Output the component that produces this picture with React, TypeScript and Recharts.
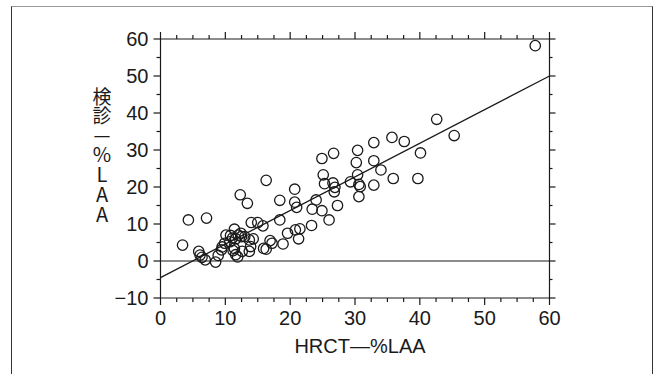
import React from 'react';
import { ScatterChart, Scatter, XAxis, YAxis, ReferenceLine } from 'recharts';

// HRCT-%LAA (x) and 検診-%LAA (y) values
const hrctLAA = [
  57.8, 42.6, 45.3, 35.7, 37.6, 32.9, 40.1, 30.4, 26.7, 24.9,
  30.2, 32.9, 34.0, 30.4, 25.1, 35.9, 39.7, 29.3, 25.3, 26.6,
  26.9, 30.6, 30.8, 32.9, 30.6, 26.8, 27.3, 24.0, 23.4, 24.9,
  26.0, 16.3, 20.7, 12.3, 13.4, 18.4, 20.7, 21.0, 4.3, 7.1,
  18.4, 14.0, 15.0, 15.8, 23.3, 11.4, 20.8, 21.5, 19.6, 21.3,
  10.1, 10.8, 12.4, 13.0, 14.3, 13.7, 11.6, 11.1, 10.7, 16.9,
  17.2, 18.9, 9.9, 9.5, 3.4, 9.4, 11.4, 11.2, 12.6, 13.9,
  13.7, 15.9, 16.3, 5.9, 11.6, 11.9, 6.1, 6.4, 6.9, 8.5,
  8.9, 12.0, 12.5,
];
const kenshinLAA = [
  58.2, 38.3, 33.9, 33.4, 32.3, 32.0, 29.2, 29.9, 29.1, 27.7,
  26.6, 27.1, 24.6, 23.3, 23.3, 22.3, 22.3, 21.4, 20.9, 21.1,
  19.9, 20.7, 20.1, 20.5, 17.4, 18.7, 15.0, 16.5, 14.0, 13.6,
  11.1, 21.8, 19.4, 17.9, 15.6, 16.4, 15.9, 14.5, 11.1, 11.6,
  11.1, 10.4, 10.4, 9.5, 9.6, 8.6, 8.4, 8.7, 7.5, 6.0,
  7.0, 6.9, 7.5, 6.6, 6.0, 5.7, 6.0, 6.2, 5.2, 5.5,
  4.8, 4.6, 4.8, 3.8, 4.3, 3.0, 3.4, 2.8, 2.6, 3.9,
  2.6, 3.4, 3.2, 2.6, 1.7, 1.1, 1.6, 1.0, 0.3, -0.3,
  1.5, 7.0, 6.6,
];

// Regression line end points
const regressionX = [0, 60];
const regressionY = [-4.5, 50];

const xTicks = [0, 2.5, 5, 7.5, 10, 12.5, 15, 17.5, 20, 22.5, 25, 27.5, 30, 32.5, 35, 37.5, 40, 42.5, 45, 47.5, 50, 52.5, 55, 57.5, 60];
const yTicks = [-10, -5, 0, 5, 10, 15, 20, 25, 30, 35, 40, 45, 50, 55, 60];
const xDomain = [0, 60];
const yDomain = [-10, 60];

const xAxisTitle = 'HRCT—%LAA';
const yAxisTitleA = '検診—';
const yAxisTitleB = '%LAA';

const points = hrctLAA.map((x, i) => ({ x, y: kenshinLAA[i] }));
const regression = regressionX.map((x, i) => ({ x, y: regressionY[i] }));

const INK = '#1a1a1a';
const FONT = '"Liberation Sans", Arial, Helvetica, sans-serif';
const CJK = '"Noto Sans CJK JP", "Noto Sans", sans-serif';
const MAJOR = 7;
const MINOR = 4;

const fmt = (v: number) => (v < 0 ? `−${Math.abs(v)}` : `${v}`);

const BottomTick = (props: any) => {
  const { x, y, payload } = props;
  const v = payload.value;
  const major = v % 10 === 0;
  return (
    <g>
      <line x1={x} x2={x} y1={y} y2={y + (major ? MAJOR : MINOR)} stroke={INK} strokeWidth={1.2} />
      {major && (
        <text x={x} y={y + 27} textAnchor="middle" fontSize={20} fontFamily={FONT} fill={INK}>
          {fmt(v)}
        </text>
      )}
    </g>
  );
};

const TopTick = (props: any) => {
  const { x, y, payload } = props;
  const major = payload.value % 10 === 0;
  return <line x1={x} x2={x} y1={y} y2={y - (major ? MAJOR : MINOR)} stroke={INK} strokeWidth={1.2} />;
};

const LeftTick = (props: any) => {
  const { x, y, payload } = props;
  const v = payload.value;
  const major = v % 10 === 0;
  return (
    <g>
      <line x1={x} x2={x - (major ? MAJOR : MINOR)} y1={y} y2={y} stroke={INK} strokeWidth={1.2} />
      {major && (
        <text x={x - 12} y={y} textAnchor="end" dominantBaseline="central" fontSize={20} fontFamily={FONT} fill={INK}>
          {fmt(v)}
        </text>
      )}
    </g>
  );
};

const RightTick = (props: any) => {
  const { x, y, payload } = props;
  const major = payload.value % 10 === 0;
  return <line x1={x} x2={x + (major ? MAJOR - 1 : MINOR - 1)} y1={y} y2={y} stroke={INK} strokeWidth={1.2} />;
};

const Ring = (props: any) => {
  const { cx, cy } = props;
  if (cx == null || cy == null) return <g />;
  return <circle cx={cx} cy={cy} r={5.2} fill="none" stroke={INK} strokeWidth={1.3} />;
};

const NoShape = () => <g />;

export default function App() {
  return (
    <div style={{ position: 'absolute', left: 0, top: 0, width: 656, height: 374, overflow: 'hidden', background: '#fff' }}>
      <div
        style={{
          position: 'absolute',
          left: 11,
          top: 6,
          width: 640,
          height: 400,
          borderLeft: '1.5px solid #333',
          borderTop: '1.5px solid #999',
          borderRight: '1.5px solid #333',
        }}
      />
      <div style={{ position: 'absolute', left: 0, top: 0 }}>
        <ScatterChart width={656} height={374} margin={{ top: 38, right: 105.5, bottom: 0, left: 0 }}>
          <XAxis
            xAxisId="main"
            dataKey="x"
            type="number"
            domain={xDomain}
            ticks={xTicks}
            interval={0}
            height={76}
            tickSize={0}
            tickMargin={0}
            tickLine={false}
            tick={<BottomTick />}
            axisLine={{ stroke: INK, strokeWidth: 1.2 }}
          />
          <XAxis
            xAxisId="top"
            dataKey="x"
            type="number"
            domain={xDomain}
            ticks={xTicks}
            interval={0}
            orientation="top"
            height={1}
            tickSize={0}
            tickMargin={0}
            tickLine={false}
            tick={<TopTick />}
            axisLine={{ stroke: INK, strokeWidth: 1.2 }}
          />
          <YAxis
            yAxisId="main"
            dataKey="y"
            type="number"
            domain={yDomain}
            ticks={yTicks}
            interval={0}
            width={160.5}
            tickSize={0}
            tickMargin={0}
            tickLine={false}
            tick={<LeftTick />}
            axisLine={{ stroke: INK, strokeWidth: 1.2 }}
            allowDataOverflow
          />
          <YAxis
            yAxisId="right"
            dataKey="y"
            type="number"
            domain={yDomain}
            ticks={yTicks}
            interval={0}
            orientation="right"
            width={1}
            tickSize={0}
            tickMargin={0}
            tickLine={false}
            tick={<RightTick />}
            axisLine={{ stroke: INK, strokeWidth: 1.2 }}
            allowDataOverflow
          />
          <ReferenceLine xAxisId="main" yAxisId="main" y={0} stroke={INK} strokeWidth={1.2} />
          <Scatter
            xAxisId="top"
            yAxisId="right"
            data={regression}
            line={{ stroke: INK, strokeWidth: 1.3 }}
            shape={<NoShape />}
            isAnimationActive={false}
          />
          <Scatter xAxisId="main" yAxisId="main" data={points} shape={<Ring />} isAnimationActive={false} />
        </ScatterChart>
      </div>
      <svg
        width={656}
        height={374}
        style={{ position: 'absolute', left: 0, top: 0, pointerEvents: 'none' }}
      >
        <text
          x={102}
          y={87}
          fill={INK}
          fontFamily={CJK}
          style={{ writingMode: 'vertical-rl', textOrientation: 'upright' } as any}
        >
          <tspan fontSize={19}>{yAxisTitleA}</tspan>
          <tspan fontSize={20}>{yAxisTitleB}</tspan>
        </text>
        <text x={360} y={353} textAnchor="middle" fontSize={20} fontFamily={FONT} fill={INK}>
          {xAxisTitle}
        </text>
      </svg>
    </div>
  );
}
